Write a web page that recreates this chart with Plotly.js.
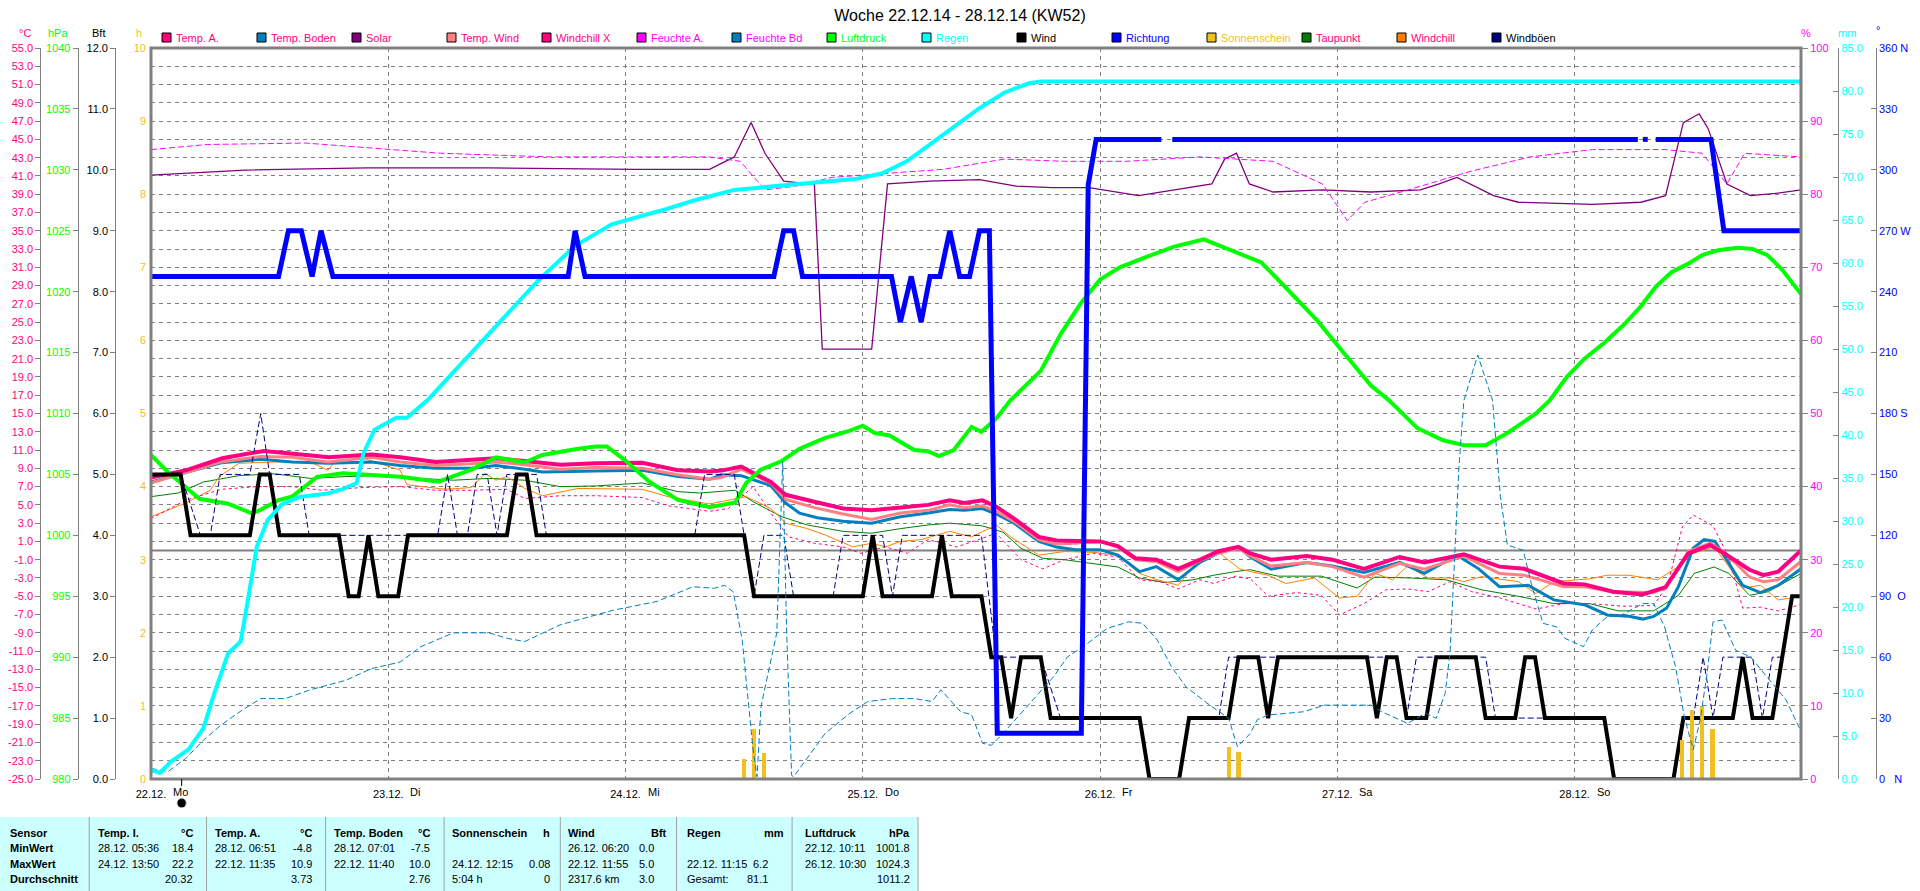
<!DOCTYPE html>
<html><head><meta charset="utf-8">
<script src="https://cdn.plot.ly/plotly-3.0.1.min.js"></script>
<style>html,body{margin:0;padding:0;background:#fff;overflow:hidden}</style>
</head><body><div id="chart" style="width:1920px;height:891px"></div>
<script>
// ---------- DATA (x = hours since 22.12.14 00:00) ----------
const dayTicks = [0,24,48,72,96,120,144];
const dayLabels = ['22.12.','23.12.','24.12.','25.12.','26.12.','27.12.','28.12.'];
const weekDays = ['Mo','Di','Mi','Do','Fr','Sa','So'];
const xEnd = 166.9;
const moonT = 3.1;

const tempA_t = [0,3.6,7.2,11.4,14.4,18.0,22.3,25.2,28.8,32.4,34.9,37.8,41.4,45.0,49.7,53.3,56.5,57.7,59.7,62.7,64.2,67.1,70.0,72.9,75.8,78.6,80.8,82.3,84.1,85.5,87.3,89.8,91.6,96.0,97.8,99.6,101.7,103.9,106.1,107.9,110.0,111.2,113.3,116.9,119.5,122.7,126.3,128.8,132.8,136.4,138.9,142.9,145.0,147.9,150.9,153.2,155.5,157.7,159.1,161.7,163.1,164.6,166.9];
const tempA   = [8.0,8.8,10.1,10.9,10.6,10.2,10.5,10.2,9.7,9.9,10.1,9.8,9.4,9.55,9.6,8.8,8.65,8.75,9.2,7.5,6.1,5.35,4.6,4.4,4.7,5.0,5.5,5.2,5.5,4.8,3.5,1.5,1.1,1.0,0.5,-0.85,-1.0,-2.0,-1.0,-0.1,0.4,-0.3,-1.0,-0.6,-1.0,-2.0,-0.7,-1.3,-0.4,-1.76,-2.0,-3.6,-3.7,-4.5,-4.8,-4.0,-0.3,0.6,-0.3,-2.1,-2.7,-2.3,0.0];

const tempW_t = [0,3.6,7.1,11.1,14.3,17.9,22.3,25.2,28.8,32.4,34.9,37.8,41.4,45.0,49.7,53.3,56.5,57.7,59.7,62.7,64.2,67.1,70.0,72.9,75.8,78.6,80.8,82.3,84.1,85.5,87.3,89.8,91.6,96.0,97.8,99.6,101.7,103.9,106.1,107.9,110.0,111.2,113.3,116.9,119.5,122.7,126.3,128.8,132.8,136.4,138.9,142.9,145.0,147.9,151.9,153.2,155.5,157.7,159.1,161.7,163.1,164.6,166.9];
const tempW   = [7.4,8.6,9.7,10.3,10.2,9.7,10.2,9.7,9.3,9.5,9.7,9.4,8.9,9.1,9.0,8.3,7.8,8.0,8.9,7.4,5.6,4.7,4.0,3.4,4.1,4.4,5.0,4.7,4.9,4.3,3.2,1.2,0.7,1.0,0.4,-1.0,-1.2,-2.3,-1.1,-0.3,0.25,-0.6,-1.7,-1.3,-1.76,-2.9,-1.4,-2.05,-0.6,-2.5,-2.7,-3.95,-3.95,-4.5,-4.6,-4.1,-0.1,0.8,-0.1,-2.9,-3.4,-3.2,-1.2];

const tempB_t = [0,3.6,7.1,11.1,14.3,17.9,22.3,25.2,28.8,32.4,34.9,37.8,39.6,45.0,49.7,53.3,56.5,57.7,59.7,62.7,64.2,65.6,67.4,70.0,72.9,75.8,78.6,80.8,82.3,84.1,85.5,87.3,89.8,91.6,93.5,96.0,97.8,100.0,101.7,103.9,106.1,107.9,110.0,111.2,113.3,116.9,119.5,122.7,126.3,128.8,132.1,134.3,136.4,139.3,141.9,145.1,147.3,149.5,150.9,152.0,153.3,154.5,156.0,157.1,158.2,161.0,162.8,164.6,166.9];
const tempB   = [7.5,8.6,9.6,10.0,9.7,9.55,9.7,9.3,9.0,9.0,9.3,8.9,8.6,8.7,8.8,8.1,7.8,8.3,8.2,7.1,5.2,4.1,3.6,3.2,3.0,3.7,4.1,4.5,4.4,4.6,4.0,3.0,1.0,0.4,0.1,0.1,-0.5,-2.3,-1.76,-3.2,-1.3,-0.3,0.4,-0.7,-2.05,-1.3,-1.7,-2.4,-1.3,-2.5,-0.5,-2.0,-3.95,-3.8,-5.4,-5.96,-7.05,-7.2,-7.5,-7.2,-6.3,-3.95,0.25,1.2,1.0,-3.8,-4.6,-3.8,-2.0];

const taup_t = [0,2.75,5.3,8.9,12.5,16.1,19.7,23.3,27.0,30.6,34.2,37.8,41.4,45.0,49.7,53.3,55.5,59.1,60.9,63.8,66.4,70.0,72.9,75.8,78.6,80.8,84.1,86.2,88.0,90.2,92.4,96.0,97.8,100.0,102.5,105.4,107.5,109.7,111.2,114.0,118.4,122.0,123.8,127.4,131.0,134.6,138.3,141.9,145.5,148.4,152.0,154.5,156.1,158.1,159.6,161.7,163.6,166.9];
const taup   = [5.9,6.3,7.5,8.2,8.4,7.9,8.1,8.2,7.9,7.7,7.9,7.7,7.0,7.07,7.4,6.45,6.3,6.6,5.35,3.7,2.8,2.1,1.9,2.4,2.8,3.0,2.7,2.0,0.25,-0.85,-1.0,-1.5,-1.8,-3.0,-3.5,-3.2,-2.7,-2.3,-2.1,-2.8,-2.8,-4.1,-2.9,-3.0,-3.2,-4.3,-5.0,-5.8,-5.8,-6.6,-6.6,-4.9,-2.5,-1.8,-2.5,-4.9,-4.5,-2.5];

const wchill_t = [0,3.5,6.0,6.9,8.9,12.5,16.1,17.9,18.6,21.5,25.2,25.9,29.8,32.4,33.8,34.9,36.0,37.8,39.6,43.2,49.7,52.3,56.5,59.1,60.2,62.7,64.2,66.4,68.2,71.0,72.9,74.3,75.8,77.9,80.8,83.0,85.5,86.95,89.8,92.4,95.3,97.8,100.0,101.8,103.9,106.1,107.9,110.1,111.2,113.0,114.8,117.7,120.2,122.0,123.8,125.6,127.1,129.2,131.4,132.8,134.6,138.3,140.1,141.9,145.5,147.3,149.5,152.4,154.5,156.0,158.1,159.6,161.0,162.8,164.6,166.9];
const wchill   = [3.7,5.2,6.6,8.1,9.55,9.7,9.7,8.8,9.7,10.1,8.8,7.2,6.7,6.9,8.45,7.7,8.1,6.8,6.0,6.8,6.7,5.9,5.1,5.7,5.9,4.6,3.0,2.4,1.7,0.4,0.8,0.4,1.0,1.2,2.1,1.5,2.8,1.5,-0.5,-0.1,-0.2,-0.5,-2.5,-3.2,-3.8,-0.85,-0.1,-2.0,-2.3,-2.7,-3.6,-3.0,-5.2,-5.0,-2.5,-3.2,-1.7,-3.0,-3.0,-3.4,-2.85,-3.4,-4.7,-3.4,-3.1,-2.7,-2.7,-3.2,-1.76,-0.3,0.4,-1.76,-4.1,-3.8,-5.4,-5.0];

const wchillX_t = [0,3.5,7.1,10.7,14.3,17.2,21.5,25.2,28.8,32.4,36.0,37.8,41.4,45.0,49.7,52.3,56.5,58.4,60.9,62.7,64.5,67.1,70.0,71.8,74.3,76.5,78.6,81.5,83.7,85.5,88.0,90.2,92.4,95.3,97.8,100.0,102.1,103.9,106.1,107.5,109.7,111.2,113.0,115.9,118.4,120.2,122.7,124.9,127.1,129.2,131.4,133.6,136.5,140.1,143.0,145.5,149.1,152.0,153.4,154.9,156.0,158.0,159.6,161.0,162.8,164.6,166.9];
const wchillX   = [3.5,5.5,6.7,7.0,7.0,6.6,6.9,7.0,6.6,6.6,6.7,5.7,6.0,6.0,5.8,4.9,4.3,4.6,7.0,4.1,1.5,0.8,0.4,-0.3,0.4,-0.3,1.2,0.4,1.2,1.9,-1.0,-2.0,-1.0,-0.3,-0.7,-3.2,-3.4,-4.2,-3.2,-3.6,-2.8,-3.1,-5.0,-4.6,-4.9,-7.05,-5.8,-4.3,-4.2,-4.5,-3.4,-4.5,-5.2,-6.4,-5.8,-5.8,-6.1,-6.0,-3.8,2.6,3.9,2.7,-0.7,-6.3,-6.2,-6.6,-5.9];

const press_t = [0,1.7,4.9,7.8,10.2,11.1,12.9,14.3,16.8,19.4,25.2,29.1,32.4,34.9,37.8,39.6,43.2,45.0,46.1,47.9,50.4,53.3,56.5,59.1,60.2,61.7,63.8,65.6,68.2,70.7,72.0,73.2,74.7,77.2,78.6,79.7,81.2,83.0,84.0,85.5,86.95,88.5,90.0,92.0,94.0,96.0,98.0,100.5,103.5,106.5,108.6,110.5,112.3,114.0,116.0,118.0,119.8,121.6,123.4,125.2,127.2,128.1,130.7,132.8,135.0,137.2,140.1,141.5,143.2,145.0,147.0,149.0,150.7,152.2,153.8,155.5,156.9,158.5,160.5,162.0,163.5,165.0,166.9];
const press   = [1006.6,1005.2,1003.0,1002.6,1001.8,1002.1,1002.9,1003.2,1004.8,1005.1,1004.8,1004.4,1005.4,1006.4,1006.0,1006.6,1007.1,1007.3,1007.3,1006.2,1004.4,1002.9,1002.3,1002.7,1004.3,1005.4,1006.1,1007.1,1008.0,1008.6,1009.0,1008.4,1008.2,1007.0,1006.9,1006.5,1007.0,1008.9,1008.5,1009.6,1011.1,1012.3,1013.5,1016.5,1019.0,1021.0,1022.0,1022.8,1023.7,1024.3,1023.6,1023.0,1022.4,1021.0,1019.3,1017.6,1015.8,1014.0,1012.3,1011.1,1009.5,1008.8,1007.8,1007.4,1007.4,1008.4,1010.0,1011.1,1013.0,1014.5,1015.8,1017.3,1018.8,1020.4,1021.6,1022.3,1023.0,1023.4,1023.6,1023.5,1023.0,1021.8,1019.8];

const rain_t = [0,0.9,2.0,3.8,5.3,6.4,7.8,9.07,9.8,10.7,11.8,13.2,15.0,17.9,19.4,20.8,21.5,22.6,24.8,25.9,28.0,31.0,34.2,37.0,39.2,42.9,46.6,51.6,55.0,59.0,65.2,71.4,73.9,76.4,78.8,81.3,83.8,86.3,88.8,90.0,166.9];
const rain   = [1.05,0.7,2.0,3.45,5.9,9.96,14.6,16.0,20.8,27.0,30.1,31.9,32.8,33.2,33.7,34.4,37.9,40.6,42.0,42.0,44.1,47.8,51.8,55.2,58.0,62.0,64.5,66.1,67.3,68.5,69.2,69.8,70.4,71.8,73.8,75.9,78.0,79.8,80.9,81.1,81.1];

const wind_t = [0,3,4,10,11,12,13,19,20,21,22,23,25,26,36,37,38,39,60,61,72,73,74,79,80,81,84,85,86,87,88,90,91,100,101,104,105,109,110,112,113,114,123,124,125,126,127,129,130,134,135,138,139,140,141,147,148,154,155,160,161,162,164,165,166,166.9];
const wind   = [5,5,4,4,5,5,4,4,3,3,4,3,3,4,4,5,5,4,4,3,3,4,3,3,4,3,3,2,2,1,2,2,1,1,0,0,1,1,2,2,1,2,2,1,2,2,1,1,2,2,1,1,2,2,1,1,0,0,1,1,2,1,1,2,3,3];

const gust_t = [0,3,5,6,7,10,11.1,12,15,16,29,30,31,32,33,34,35,36,39,40,55,56,59,61,62,64,65,69,70,74,75,76,84,85.5,90,92,100,101,104,105,108,109,126,127,128,135,136,147,148,154,155,156,157,158,159,162,163,164,165,166,166.9];
const gust   = [5,5,4,4,5,5,6,5,5,4,4,5,4,4,5,5,4,5,5,4,4,5,5,3,4,4,3,3,4,4,3,4,4,2,2,1,1,0,0,1,1,2,2,1,2,2,1,1,0,0,1,1,2,1,2,2,1,2,2,3,3];

const dir_t = [0,12.9,13.9,15.2,16.3,17.2,18.4,42.2,42.9,43.9,63.0,64.0,65.0,65.9,74.9,75.8,76.9,77.9,78.8,79.8,80.8,81.8,82.8,83.8,84.8,85.6,94.1,94.8,95.6,102.2,102.7,103.3,150.4,150.6,150.9,151.4,151.8,152.2,157.8,159.1,166.9];
const dir   = [247.5,247.5,270,270,247.5,270,247.5,247.5,270,247.5,247.5,270,270,247.5,247.5,225,247.5,225,247.5,247.5,270,247.5,247.5,270,270,22.5,22.5,292.5,315,315,null,315,315,null,315,315,null,315,315,270,270];

const solar_t = [0,9.5,21.9,34.2,49.1,56.5,59.0,60.7,62.1,64.0,66.5,67.1,67.9,72.9,74.5,78.8,83.8,87.5,91.2,94.9,99.9,103.6,107.3,108.6,109.8,111.1,113.5,118.5,123.4,128.4,130.3,132.1,133.4,135.8,138.3,145.8,150.7,153.2,155.0,156.6,157.5,159.4,161.8,164.3,166.9];
const solar   = [82.6,83.3,83.6,83.6,83.4,83.4,85.1,89.8,85.6,81.8,81.4,81.4,58.8,58.8,81.4,81.8,82.0,81.1,80.9,80.9,79.8,80.6,81.4,84.8,85.6,81.4,80.3,80.6,80.3,80.6,81.4,82.3,81.4,79.8,78.9,78.6,78.9,79.8,89.8,91.0,89.0,81.4,79.8,80.1,80.6];

const humA_t = [0,5.7,15.6,29.3,40.4,56.5,59.6,62.1,65.2,68.9,73.9,80.1,86.3,92.5,98.7,106.1,113.5,118.5,121.0,122.8,127.2,133.4,139.5,145.8,153.2,156.9,159.4,161.2,166.9];
const humA   = [86.1,86.8,87.0,85.6,85.1,85.1,84.5,80.6,81.1,82.3,82.8,83.4,84.8,84.5,84.5,85.1,84.5,81.4,76.4,78.9,80.6,83.1,85.1,86.1,86.1,85.6,81.4,85.6,85.1];

const humB_t = [0,1.7,3.5,5.3,7.1,9.2,11.1,13.6,16.1,19.7,22.3,25.2,27.3,30.6,34.2,36.0,37.8,41.4,46.8,51.2,54.8,57.0,58.0,58.9,59.8,60.4,60.9,61.3,61.7,63.3,63.9,64.3,64.8,65.0,68.2,70.7,72.5,75.0,77.2,79.0,79.9,81.9,83.0,84.1,85.0,86.2,89.1,91.3,92.7,94.5,96.7,98.9,100.3,101.8,103.2,104.7,106.8,109.0,109.9,111.2,111.9,113.0,116.6,118.7,123.4,124.5,127.1,128.9,130.0,130.9,131.4,131.9,132.3,132.8,134.2,135.7,136.5,137.2,138.8,139.7,140.8,142.2,143.0,144.9,145.8,147.3,148.7,150.9,152.0,153.1,154.2,155.1,156.0,156.7,157.4,158.0,158.9,160.3,161.8,163.2,165.4,166.9];
const humB   = [1.45,1.0,2.8,5.3,7.4,9.4,11.0,11.0,12.2,13.5,15.1,16.0,18.1,20.0,20.0,19.25,18.8,21.1,23.1,24.3,26.3,26.1,26.5,25.6,19.0,10.8,4.0,0.3,9.9,20.0,43.4,20.0,0.5,0.3,6.25,9.0,10.6,11.0,11.0,10.6,12.2,9.2,8.8,4.9,4.6,6.25,10.6,14.0,16.7,18.3,20.6,21.5,21.3,19.0,15.4,12.6,10.4,8.3,4.4,6.25,8.1,8.75,9.2,10.1,10.1,9.2,7.6,9.0,8.3,11.7,17.2,31.3,42.7,51.8,58.0,51.8,38.6,32.0,31.3,26.3,21.3,20.8,19.25,18.1,20.4,22.2,22.4,24.0,24.0,20.8,15.4,8.5,4.0,8.1,14.4,21.5,21.75,17.6,16.7,14.4,10.8,6.5];

const sun_t = [60.0,61.0,62.0,109.0,110.0,154.9,155.9,156.9,157.95];
const sun   = [0.28,0.69,0.36,0.44,0.37,0.53,0.94,1.0,0.69];

// axis tick values
const cTicks = [-25,-23,-21,-19,-17,-15,-13,-11,-9,-7,-5,-3,-1,1,3,5,7,9,11,13,15,17,19,21,23,25,27,29,31,33,35,37,39,41,43,45,47,49,51,53,55];
const pTicks = [980,985,990,995,1000,1005,1010,1015,1020,1025,1030,1035,1040];
const bTicks = [0,1,2,3,4,5,6,7,8,9,10,11,12];
const hTicks = [0,1,2,3,4,5,6,7,8,9,10];
const pctTicks = [0,10,20,30,40,50,60,70,80,90,100];
const mmTicks = [0,5,10,15,20,25,30,35,40,45,50,55,60,65,70,75,80,85];
const degTicks = [0,30,60,90,120,150,180,210,240,270,300,330,360];
const degText = ['0\u00a0\u00a0\u00a0N','30','60','90\u00a0\u00a0O','120','150','180\u00a0S','210','240','270\u00a0W','300','330','360\u00a0N'];

// legend
const legNames = ['Temp. A.','Temp. Boden','Solar','Temp. Wind','Windchill X','Feuchte A.','Feuchte Bd','Luftdruck','Regen','Wind','Richtung','Sonnenschein','Taupunkt','Windchill','Windböen'];
const legBox = ['#FF0080','#0080C0','#800080','#FF8080','#FF0080','#FF00FF','#0080C0','#00FF00','#00FFFF','#000000','#0000FF','#F0C020','#008000','#FF8000','#000080'];
const legTxt = ['#FF0080','#FF0080','#FF0080','#FF0080','#FF0080','#FF00FF','#FF00FF','#00FF00','#00FFFF','#000000','#0000FF','#F0C020','#FF0080','#FF0080','#000000'];

// table
const tabHead = ['Temp. I.','Temp. A.','Temp. Boden','Sonnenschein','Wind','Regen','Luftdruck'];
const tabUnit = ['°C','°C','°C','h','Bft','mm','hPa'];
const rowNames = ['Sensor','MinWert','MaxWert','Durchschnitt'];
const minWhen = ['28.12. 05:36','28.12. 06:51','28.12. 07:01','','26.12. 06:20','','22.12. 10:11'];
const minVal  = ['18.4','-4.8','-7.5','','0.0','','1001.8'];
const maxWhen = ['24.12. 13:50','22.12. 11:35','22.12. 11:40','24.12. 12:15','22.12. 11:55','22.12. 11:15','26.12. 10:30'];
const maxVal  = ['22.2','10.9','10.0','0.08','5.0','6.2','1024.3'];
const avgWhen = ['','','','5:04 h','2317.6 km','Gesamt:',''];
const avgVal  = ['20.32','3.73','2.76','0','3.0','81.1','1011.2'];

// ---------- LAYOUT HELPERS ----------
const W = 1920, PT = 48, PB = 779;
const px = x => x / W;
const py = y => (PB - y) / (PB - PT);
const FONT = 'Liberation Sans, Arial, sans-serif';
const GRAY = '#808080';

function ln(t, v, ax, color, width, dash) {
  return {type:'scatter', mode:'lines', x:t, y:v, yaxis:ax, connectgaps:false,
          line:{color:color, width:width, dash:dash||'solid', shape:'linear'}, hoverinfo:'skip', showlegend:false};
}

const traces = [
  ln(taup_t, taup, 'y', '#008000', 1),
  ln(wchill_t, wchill, 'y', '#FF8000', 1),
  ln(wchillX_t, wchillX, 'y', '#FF0080', 1, '3px,3px'),
  ln(tempB_t, tempB, 'y', '#0080C0', 3),
  ln(tempW_t, tempW, 'y', '#FF8080', 3),
  ln(tempA_t, tempA, 'y', '#FF0080', 4),
  ln(press_t, press, 'y2', '#00FF00', 4),
  ln(gust_t, gust, 'y3', '#000080', 1, '6px,3px'),
  ln(wind_t, wind, 'y3', '#000000', 4),
  {type:'bar', x:sun_t, y:sun, yaxis:'y4', width:0.42, marker:{color:'#F0C020', line:{width:0}}, hoverinfo:'skip', showlegend:false},
  ln([0, xEnd], [0, 0], 'y4', '#F0C020', 2, '3px,3px'),
  ln(humB_t, humB, 'y5', '#0080C0', 1, '6px,3px'),
  ln(solar_t, solar, 'y5', '#800080', 1.3),
  ln(humA_t, humA, 'y5', '#FF00FF', 1, '6px,3px'),
  ln(rain_t, rain, 'y6', '#00FFFF', 4),
  ln(dir_t, dir, 'y7', '#0000FF', 5)
];

const fx = v => v.toFixed(1);
const baseAx = {fixedrange:true, zeroline:false, showgrid:false, tickfont:{family:FONT, size:11}};

const layout = {
  width:1920, height:891,
  margin:{l:0, r:0, t:PT, b:891-PB, pad:0},
  paper_bgcolor:'#ffffff', plot_bgcolor:'#ffffff',
  showlegend:false, bargap:0,
  font:{family:FONT, size:11, color:'#000'},
  title:{text:'Woche 22.12.14 - 28.12.14 (KW52)', x:0.5, xref:'container', xanchor:'center',
         y:1-15/891, yref:'container', yanchor:'middle', font:{family:FONT, size:16, color:'#000'}},
  xaxis:{domain:[px(151), px(1801)], range:[0, xEnd], fixedrange:true,
         tickvals:dayTicks, ticktext:dayLabels, ticks:'', showline:false, zeroline:false,
         showgrid:true, gridcolor:GRAY, gridwidth:1, griddash:'4px,4px',
         tickfont:{family:FONT, size:11, color:'#000'}, ticklabelstandoff:7},
  yaxis:Object.assign({}, baseAx, {range:[-25,55], anchor:'free', position:px(40.3), side:'left',
         tickvals:cTicks, ticktext:cTicks.map(fx), showline:true, linecolor:GRAY, linewidth:1,
         ticks:'outside', ticklen:5, tickcolor:GRAY, tickfont:{family:FONT, size:11, color:'#FF0080'},
         showgrid:true, gridcolor:GRAY, gridwidth:1, griddash:'4px,4px'}),
  yaxis2:Object.assign({}, baseAx, {range:[980,1040], overlaying:'y', anchor:'free', position:px(77.7), side:'left',
         tickvals:pTicks, ticktext:pTicks.map(String), showline:true, linecolor:GRAY, ticks:'outside', ticklen:5, tickcolor:GRAY,
         tickfont:{family:FONT, size:11, color:'#00FF00'}}),
  yaxis3:Object.assign({}, baseAx, {range:[0,12], overlaying:'y', anchor:'free', position:px(115.2), side:'left',
         tickvals:bTicks, ticktext:bTicks.map(fx), showline:true, linecolor:GRAY, ticks:'outside', ticklen:5, tickcolor:GRAY,
         tickfont:{family:FONT, size:11, color:'#000000'}}),
  yaxis4:Object.assign({}, baseAx, {range:[0,10], overlaying:'y', anchor:'x', side:'left',
         tickvals:hTicks, ticktext:hTicks.map(String), showline:false, ticks:'', ticklabelstandoff:4,
         tickfont:{family:FONT, size:11, color:'#F0C020'}}),
  yaxis5:Object.assign({}, baseAx, {range:[0,100], overlaying:'y', anchor:'x', side:'right',
         tickvals:pctTicks, ticktext:pctTicks.map(String), showline:false, ticks:'outside', ticklen:6, tickcolor:GRAY,
         tickfont:{family:FONT, size:11, color:'#FF00FF'}}),
  yaxis6:Object.assign({}, baseAx, {range:[0,85], overlaying:'y', anchor:'free', position:px(1838.3), side:'right',
         tickvals:mmTicks, ticktext:mmTicks.map(fx), showline:true, linecolor:GRAY, ticks:'inside', ticklen:5, tickcolor:GRAY,
         tickfont:{family:FONT, size:11, color:'#00FFFF'}}),
  yaxis7:Object.assign({}, baseAx, {range:[0,360], overlaying:'y', anchor:'free', position:px(1875.7), side:'right',
         tickvals:degTicks, ticktext:degText, showline:true, linecolor:GRAY, ticks:'inside', ticklen:5, tickcolor:GRAY,
         tickfont:{family:FONT, size:11, color:'#0000FF'}}),
  shapes:[], annotations:[]
};

const S = layout.shapes, A = layout.annotations;
// zero line (0 °C)
S.push({type:'line', xref:'paper', yref:'y', x0:px(151), x1:px(1801), y0:0, y1:0, line:{color:GRAY, width:2}, layer:'below'});
// plot frame
S.push({type:'rect', xref:'paper', yref:'paper', x0:px(151), x1:px(1801), y0:0, y1:1, line:{color:GRAY, width:3}, fillcolor:'rgba(0,0,0,0)', layer:'above'});
// moon marker
S.push({type:'line', xref:'x', yref:'paper', x0:moonT, x1:moonT, y0:py(779), y1:py(786), line:{color:'#000', width:1}});
S.push({type:'circle', xref:'x', yref:'paper', x0:moonT-0.45, x1:moonT+0.45, y0:py(807.5), y1:py(798.5), fillcolor:'#000', line:{color:'#999', width:1, dash:'dot'}});

// weekday labels
weekDays.forEach((d,i) => A.push({xref:'x', yref:'paper', x:dayTicks[i], y:py(792), xanchor:'left', yanchor:'middle', xshift:20,
  text:d, showarrow:false, font:{family:FONT, size:11, color:'#000'}}));

// axis unit labels
[['°C',25,'#FF0080'],['hPa',57.5,'#00FF00'],['Bft',98,'#000000'],['h',138.5,'#F0C020'],
 ['%',1806,'#FF00FF'],['mm',1846.5,'#00FFFF'],['°',1877.5,'#0000FF']].forEach(u =>
  A.push({xref:'paper', yref:'paper', x:px(u[1]), y:py(u[0]==='°'?30:33), xanchor:'center', yanchor:'middle',
          text:u[0], showarrow:false, font:{family:FONT, size:11, color:u[2]}}));

// legend
legNames.forEach((n,i) => {
  const x0 = 162 + 95*i;
  S.push({type:'rect', xref:'paper', yref:'paper', x0:px(x0), x1:px(x0+9), y0:py(42), y1:py(33),
          fillcolor:legBox[i], line:{color:'#000', width:1}});
  A.push({xref:'paper', yref:'paper', x:px(x0+12), y:py(38), xanchor:'left', yanchor:'middle',
          text:n, showarrow:false, font:{family:FONT, size:11, color:legTxt[i]}});
});

// table
S.push({type:'rect', xref:'paper', yref:'paper', x0:0, x1:px(918), y0:py(891), y1:py(817), fillcolor:'#CCFFFF', line:{width:0}, layer:'below'});
[89.2,206.5,325.6,444.1,560.3,676.5,792.1,918].forEach(x =>
  S.push({type:'line', xref:'paper', yref:'paper', x0:px(x), x1:px(x), y0:py(817), y1:py(891), line:{color:'#A0A0A0', width:1}}));
const rowY = [833, 848, 863.5, 879];
const colL = [95.6,213,331.5,449.5,566,685,802.7];
const colU = [195.4,314,432.4,551.5,669,786,912.4];
const colV = [195.4,314,432.4,551.5,656,770,912.4];
function cell(txt, x, y, anchor, bold) {
  if (!txt) return;
  A.push({xref:'paper', yref:'paper', x:px(x), y:py(y), xanchor:anchor, yanchor:'middle',
          text: bold ? '<b>'+txt+'</b>' : txt, showarrow:false, font:{family:FONT, size:11, color:'#000'}});
}
rowNames.forEach((r,i) => cell(r, 8, rowY[i], 'left', true));
tabHead.forEach((h,i) => { cell(h, colL[i], rowY[0], 'left', true); cell(tabUnit[i], colU[i], rowY[0], 'right', true); });
for (let i = 0; i < 7; i++) {
  cell(minWhen[i], colL[i], rowY[1], 'left'); cell(minVal[i], colV[i], rowY[1], 'right');
  cell(maxWhen[i], colL[i], rowY[2], 'left'); cell(maxVal[i], colV[i], rowY[2], 'right');
  cell(avgWhen[i], colL[i], rowY[3], 'left'); cell(avgVal[i], colV[i], rowY[3], 'right');
}

Plotly.newPlot('chart', traces, layout, {staticPlot:true, displayModeBar:false});
</script></body></html>
